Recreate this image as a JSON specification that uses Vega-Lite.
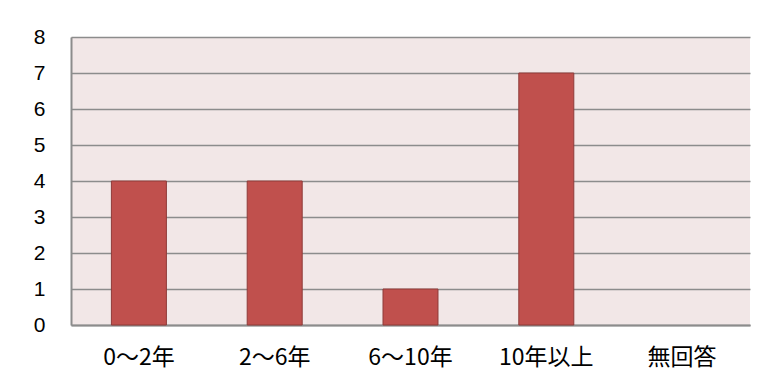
{
  "$schema": "https://vega.github.io/schema/vega-lite/v6.json",
  "autosize": "none",
  "width": 679,
  "height": 288,
  "padding": {"left": 71, "top": 37, "right": 32, "bottom": 62},
  "background": "#ffffff",
  "data": {"values": [
    {"category": "0〜2年", "count": 4},
    {"category": "2〜6年", "count": 4},
    {"category": "6〜10年", "count": 1},
    {"category": "10年以上", "count": 7},
    {"category": "無回答", "count": 0}
  ]},
  "mark": {"type": "bar", "color": "#C0504D", "stroke": "#8E3B39"},
  "encoding": {
    "x": {
      "field": "category", "type": "nominal", "sort": null,
      "scale": {"paddingInner": 0.595, "paddingOuter": 0.2975},
      "axis": {"title": null, "labelAngle": 0, "ticks": false, "domain": true, "domainColor": "#8c8c8c", "domainWidth": 2,
               "labelFont": "Noto Sans CJK JP", "labelFontSize": 23, "labelColor": "#000000", "labelPadding": 21, "labelOverlap": false}
    },
    "y": {
      "field": "count", "type": "quantitative",
      "scale": {"domain": [0, 8], "nice": false},
      "axis": {"title": null, "values": [0,1,2,3,4,5,6,7,8], "ticks": false, "domain": true, "domainColor": "#8c8c8c", "domainWidth": 2,
               "grid": true, "gridColor": "#8c8c8c", "gridWidth": 1.5, "labelOverlap": false,
               "labelFont": "Liberation Sans", "labelFontSize": 21, "labelColor": "#000000", "labelPadding": 26}
    },
    "strokeWidth": {"condition": {"test": "datum.count > 0", "value": 1}, "value": 0}
  },
  "config": {
    "view": {"fill": "#F2E7E7", "stroke": null}
  }
}
